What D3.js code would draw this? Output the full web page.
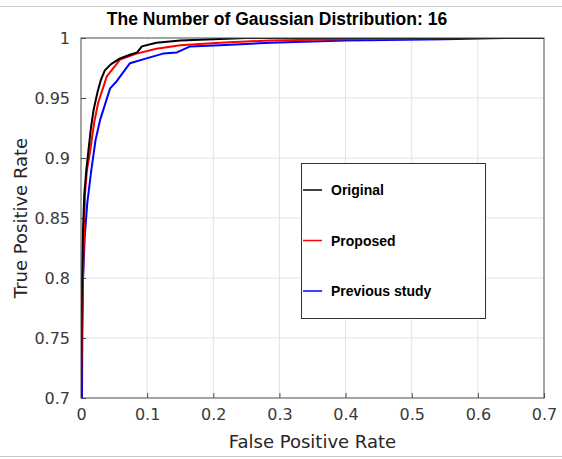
<!DOCTYPE html>
<html>
<head>
<meta charset="utf-8">
<script src="https://cdn.jsdelivr.net/npm/d3@7"></script>
<style>
  body { margin: 0; background: #fff; }
  #canvas { width: 562px; height: 459px; }
</style>
</head>
<body>
<div id="canvas" class="canvas"></div>
<script>
// ROC curves
var originalFpr = [0, 0.001, 0.003, 0.005, 0.008, 0.011, 0.015, 0.019, 0.025, 0.030, 0.036, 0.045, 0.059, 0.074, 0.085, 0.092, 0.114, 0.15, 0.2, 0.25, 0.4, 0.7];
var originalTpr = [0.70, 0.78, 0.84, 0.87, 0.89, 0.905, 0.925, 0.940, 0.955, 0.965, 0.973, 0.978, 0.983, 0.986, 0.988, 0.993, 0.996, 0.998, 0.999, 1.0, 1.0, 1.0];

var proposedFpr = [0, 0.0015, 0.003, 0.0045, 0.006, 0.009, 0.0136, 0.02, 0.026, 0.039, 0.059, 0.084, 0.114, 0.15, 0.21, 0.286, 0.4, 0.55, 0.7];
var proposedTpr = [0.70, 0.76, 0.80, 0.835, 0.87, 0.89, 0.905, 0.93, 0.946, 0.968, 0.982, 0.987, 0.991, 0.994, 0.996, 0.998, 0.999, 1.0, 1.0];

var previousFpr = [0.0015, 0.002, 0.003, 0.0056, 0.0095, 0.0156, 0.022, 0.029, 0.044, 0.054, 0.074, 0.099, 0.124, 0.145, 0.165, 0.21, 0.286, 0.4, 0.55, 0.64, 0.7];
var previousTpr = [0.70, 0.751, 0.798, 0.834, 0.8625, 0.89, 0.915, 0.932, 0.958, 0.964, 0.979, 0.983, 0.987, 0.988, 0.993, 0.994, 0.996, 0.998, 0.999, 1.0, 1.0];

var seriesNames = ['Original', 'Proposed', 'Previous study'];
var xTicks = [0, 0.1, 0.2, 0.3, 0.4, 0.5, 0.6, 0.7];
var yTicks = [0.7, 0.75, 0.8, 0.85, 0.9, 0.95, 1];
var titleText = 'The Number of Gaussian Distribution: 16';

var colors = ['#000000', '#ff0000', '#0000ff'];

function zip(xs, ys){
  return xs.map(function(x, i){ return {x: x, y: ys[i]}; });
}
var series = [
  zip(originalFpr, originalTpr),
  zip(proposedFpr, proposedTpr),
  zip(previousFpr, previousTpr)
];

var outerWidth = 562, outerHeight = 459;
var m = {t:38, r:18, b:61, l:81};
var w = outerWidth - m.l - m.r,
    h = outerHeight - m.t - m.b;

var svg = d3.select('.canvas')
  .append('svg')
  .attr('width', outerWidth)
  .attr('height', outerHeight)
  .style('font-family', 'DejaVu Sans, sans-serif');

// page separator lines
svg.append('line').attr('x1', 0).attr('x2', outerWidth).attr('y1', 6.5).attr('y2', 6.5)
  .attr('stroke', '#c8c8c8').attr('stroke-width', 1);
svg.append('line').attr('x1', 0).attr('x2', outerWidth).attr('y1', 456.5).attr('y2', 456.5)
  .attr('stroke', '#c8c8c8').attr('stroke-width', 1);

var scaleX = d3.scaleLinear().domain([0, 0.7]).range([0, w]);
var scaleY = d3.scaleLinear().domain([0.7, 1]).range([h, 0]);

var plot = svg.append('g')
  .attr('transform', 'translate(' + m.l + ',' + m.t + ')');

// grid
plot.append('g').selectAll('line').data(xTicks.slice(1, -1)).enter().append('line')
  .attr('x1', function(d){ return scaleX(d); }).attr('x2', function(d){ return scaleX(d); })
  .attr('y1', 0).attr('y2', h)
  .attr('stroke', '#e3e3e3').attr('stroke-width', 1);
plot.append('g').selectAll('line').data(yTicks.slice(1, -1)).enter().append('line')
  .attr('y1', function(d){ return scaleY(d); }).attr('y2', function(d){ return scaleY(d); })
  .attr('x1', 0).attr('x2', w)
  .attr('stroke', '#e3e3e3').attr('stroke-width', 1);

// axes
var axisX = d3.axisBottom(scaleX).tickValues(xTicks).tickSizeInner(-5).tickSizeOuter(0).tickPadding(11)
  .tickFormat(function(d){ return d === 0 ? '0' : d3.format('.1f')(d); });
var axisY = d3.axisLeft(scaleY).tickValues(yTicks).tickSizeInner(-5).tickSizeOuter(0).tickPadding(11)
  .tickFormat(function(d){ return d === 1 ? '1' : String(+d.toFixed(2)); });

var gx = plot.append('g').attr('class', 'axis').attr('transform', 'translate(0,' + h + ')').call(axisX);
var gy = plot.append('g').attr('class', 'axis').call(axisY);
[gx, gy].forEach(function(g){
  g.select('.domain').remove();
  g.selectAll('line').attr('stroke', '#4d4d4d');
  g.selectAll('text').attr('fill', '#3a3a3a').style('font-size', '16px').style('font-family', 'DejaVu Sans, sans-serif');
});

// curves, clipped to the axes box
plot.append('clipPath').attr('id', 'clip').append('rect').attr('width', w).attr('height', h);
var line = d3.line().x(function(d){ return scaleX(d.x); }).y(function(d){ return scaleY(d.y); });
plot.append('g').attr('clip-path', 'url(#clip)')
  .selectAll('path').data(series.slice().reverse()).enter().append('path')
  .attr('d', line)
  .attr('fill', 'none')
  .attr('stroke', function(d, i){ return colors[2 - i]; })
  .attr('stroke-width', 2)
  .attr('stroke-linejoin', 'round');

// box
plot.append('rect').attr('x', 0).attr('y', 0).attr('width', w).attr('height', h)
  .attr('fill', 'none').attr('stroke', '#4d4d4d').attr('stroke-width', 1);

// labels
svg.append('text').attr('x', 277).attr('y', 25).attr('text-anchor', 'middle')
  .style('font-family', 'Liberation Sans, Arial, sans-serif').style('font-weight', 'bold').style('font-size', '17.5px')
  .text(titleText);
svg.append('text').attr('x', m.l + w / 2).attr('y', 448).attr('text-anchor', 'middle')
  .style('font-size', '18px').attr('fill', '#262626').text('False Positive Rate');
svg.append('text').attr('transform', 'translate(27,' + (m.t + h / 2) + ') rotate(-90)').attr('text-anchor', 'middle')
  .style('font-size', '18px').attr('fill', '#262626').text('True Positive Rate');

// legend
var legend = svg.append('g').attr('transform', 'translate(301,163)');
legend.append('rect').attr('x', 0.5).attr('y', 0.5).attr('width', 184).attr('height', 155)
  .attr('fill', '#fff').attr('stroke', '#333').attr('stroke-width', 1);
var items = legend.selectAll('g.item').data(seriesNames).enter().append('g')
  .attr('transform', function(d, i){ return 'translate(0,' + (27 + i * 50.5) + ')'; });
items.append('line').attr('x1', 2).attr('x2', 21).attr('y1', 0).attr('y2', 0)
  .attr('stroke', function(d, i){ return colors[i]; }).attr('stroke-width', 1.5);
items.append('text').attr('x', 30).attr('y', 5)
  .style('font-family', 'Liberation Sans, Arial, sans-serif').style('font-weight', 'bold').style('font-size', '14px')
  .text(function(d){ return d; });
</script>
</body>
</html>
